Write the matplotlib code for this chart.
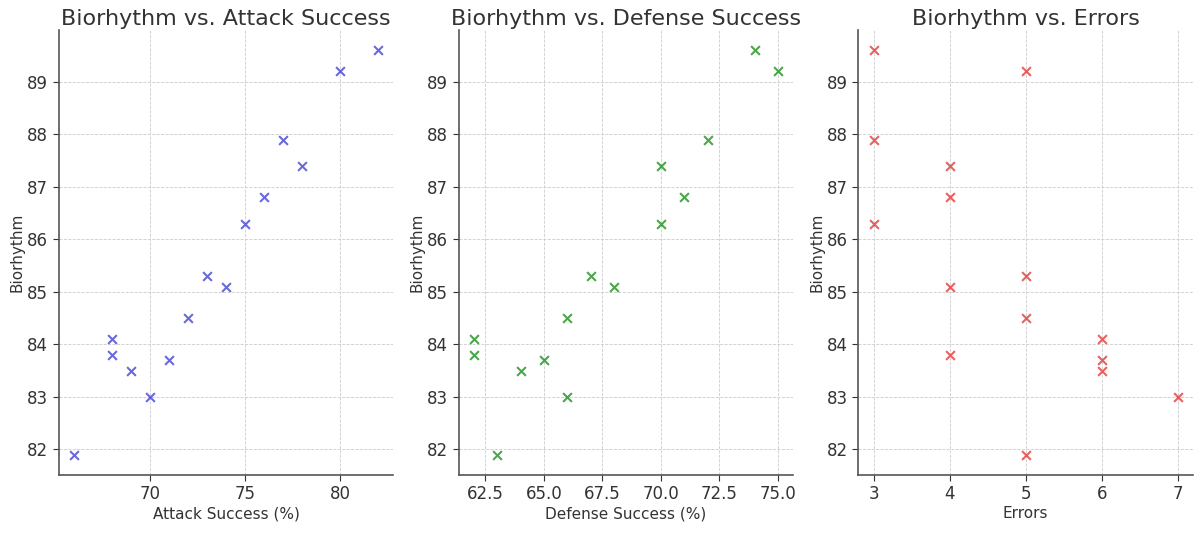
import matplotlib.pyplot as plt

# biorhythm scores, one per player (shared by all three panels)
biorhythm = [81.9, 84.1, 83.8, 83.5, 83.0, 83.7, 84.5, 85.3, 85.1, 86.3, 86.8, 87.9, 87.4, 89.2, 89.6]
attack_success = [66, 68, 68, 69, 70, 71, 72, 73, 74, 75, 76, 77, 78, 80, 82]
defense_success = [63, 62, 62, 64, 66, 65, 66, 67, 68, 70, 71, 72, 70, 75, 74]
errors = [5, 6, 4, 6, 7, 6, 5, 5, 4, 3, 4, 3, 4, 5, 3]

panels = [
    (attack_success, '#2a2ad0', 'Biorhythm vs. Attack Success', 'Attack Success (%)'),
    (defense_success, 'green', 'Biorhythm vs. Defense Success', 'Defense Success (%)'),
    (errors, '#e02020', 'Biorhythm vs. Errors', 'Errors'),
]

txt = '#333333'
fig, axes = plt.subplots(1, 3, figsize=(11.97, 5.39), dpi=100)
fig.subplots_adjust(left=0.049, right=0.9967, bottom=0.119, top=0.944, wspace=0.195)

for ax, (xs, col, title, xlab) in zip(axes, panels):
    ax.scatter(xs, biorhythm, marker='x', color=col, alpha=0.7, s=40, linewidths=1.5)
    ax.set_title(title, fontsize=16, color=txt, pad=4)
    ax.set_xlabel(xlab, fontsize=11, color=txt, labelpad=2)
    ax.set_ylabel('Biorhythm', fontsize=11, color=txt, labelpad=2)
    ax.grid(True, linestyle='--', linewidth=0.6, color='#cccccc')
    ax.set_axisbelow(True)
    ax.spines['top'].set_visible(False)
    ax.spines['right'].set_visible(False)
    for s in ('left', 'bottom'):
        ax.spines[s].set_color('#555555')
        ax.spines[s].set_linewidth(1.2)
    ax.tick_params(labelsize=12, colors=txt, length=4)

fig.savefig('out.png', dpi=100)
